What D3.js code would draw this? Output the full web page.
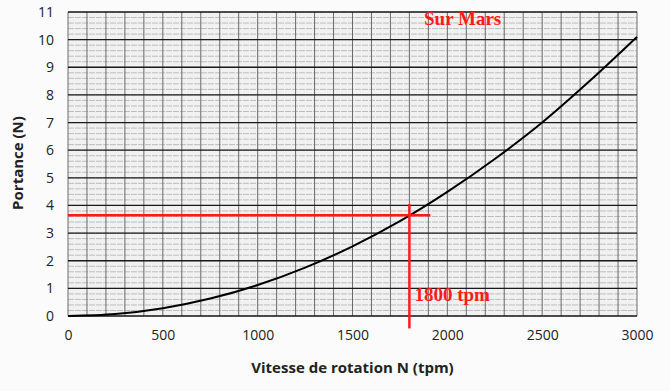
<!DOCTYPE html>
<html>
<head>
<meta charset="utf-8">
<script src="https://cdn.jsdelivr.net/npm/d3@7"></script>
<style>
  body { margin: 0; background: #fbfbfb; }
  text { font-family: "Open Sans", "Liberation Sans", sans-serif; }
</style>
</head>
<body>
<div class="container"></div>
<script>
'use strict'

// values
const speeds = [0, 250, 500, 750, 1000, 1250, 1500, 1750, 2000, 2250, 2500, 2750, 3000]
const lift = [0, 0.07, 0.28, 0.63, 1.12, 1.75, 2.52, 3.43, 4.49, 5.68, 7.0, 8.5, 10.1]
const xTicks = [0, 500, 1000, 1500, 2000, 2500, 3000]
const yTicks = [0, 1, 2, 3, 4, 5, 6, 7, 8, 9, 10, 11]
const markSpeed = 1800
const markLift = 3.65

const width = 670
const height = 391
const margin = { top: 12, right: 33, bottom: 75, left: 68 }

const svg = d3.select('.container').append('svg')
  .attr('width', width)
  .attr('height', height)

const x = d3.scaleLinear().domain([0, 3000]).range([margin.left, width - margin.right])
const y = d3.scaleLinear().domain([0, 11]).range([height - margin.bottom, margin.top])

// paper background
svg.append('rect')
  .attr('x', x(0)).attr('y', y(11))
  .attr('width', x(3000) - x(0)).attr('height', y(0) - y(11))
  .style('fill', '#f1f1f1')

// minor horizontal grid every 0.2
svg.append('g').selectAll('line')
  .data(d3.range(0, 11.01, 0.2))
  .enter().append('line')
    .attr('x1', x(0)).attr('x2', x(3000))
    .attr('y1', d => y(d)).attr('y2', d => y(d))
    .style('stroke', '#bdbdbd')
    .style('stroke-width', 1)
    .style('stroke-dasharray', '6,1')

// vertical grid every 100
svg.append('g').selectAll('line')
  .data(d3.range(0, 3001, 100))
  .enter().append('line')
    .attr('x1', d => x(d)).attr('x2', d => x(d))
    .attr('y1', y(0)).attr('y2', y(11))
    .style('stroke', '#6a6a6a')
    .style('stroke-width', 1)

// major horizontal lines
svg.append('g').selectAll('line')
  .data(yTicks)
  .enter().append('line')
    .attr('x1', x(0)).attr('x2', x(3000))
    .attr('y1', d => y(d)).attr('y2', d => y(d))
    .style('stroke', '#1a1a1a')
    .style('stroke-width', 1.3)

// axes (labels only)
const xAxis = svg.append('g')
  .attr('transform', `translate(0,${y(0)})`)
  .call(d3.axisBottom(x).tickValues(xTicks).tickFormat(d3.format('d')).tickSize(0).tickPadding(14))
xAxis.select('.domain').remove()
xAxis.selectAll('text').style('font-size', '14px').style('fill', '#222')

const yAxis = svg.append('g')
  .attr('transform', `translate(${x(0)},0)`)
  .call(d3.axisLeft(y).tickValues(yTicks).tickFormat(d3.format('d')).tickSize(0).tickPadding(14))
yAxis.select('.domain').remove()
yAxis.selectAll('text').style('font-size', '14px').style('fill', '#222')

// curve
const line = d3.line()
  .x((d, i) => x(speeds[i]))
  .y(d => y(d))
  .curve(d3.curveMonotoneX)

svg.append('path')
  .datum(lift)
  .attr('d', line)
  .style('fill', 'none')
  .style('stroke', '#000')
  .style('stroke-width', 2)

// red reading lines
svg.append('line')
  .attr('x1', x(0)).attr('x2', x(1910))
  .attr('y1', y(markLift)).attr('y2', y(markLift))
  .style('stroke', '#ff1a1a').style('stroke-width', 2.5)
svg.append('line')
  .attr('x1', x(markSpeed)).attr('x2', x(markSpeed))
  .attr('y1', y(4.05)).attr('y2', y(-0.45))
  .style('stroke', '#ff1a1a').style('stroke-width', 2.5)

svg.append('text')
  .attr('x', x(markSpeed) + 5).attr('y', y(0.55))
  .style('font-family', '"Liberation Serif", serif')
  .style('font-weight', 'bold')
  .style('font-size', '19px')
  .style('fill', '#ff1a1a')
  .text(markSpeed + ' tpm')

svg.append('text')
  .attr('x', 424).attr('y', 25)
  .style('font-family', '"Liberation Serif", serif')
  .style('font-weight', 'bold')
  .style('font-size', '19px')
  .style('fill', '#ff1a1a')
  .text('Sur Mars')

// axis titles
svg.append('text')
  .attr('x', (x(0) + x(3000)) / 2).attr('y', 373)
  .style('text-anchor', 'middle')
  .style('font-weight', 'bold')
  .style('font-size', '15px')
  .style('fill', '#222')
  .text('Vitesse de rotation N (tpm)')

svg.append('text')
  .attr('transform', 'translate(23,163) rotate(-90)')
  .style('text-anchor', 'middle')
  .style('font-weight', 'bold')
  .style('font-size', '15px')
  .style('fill', '#222')
  .text('Portance (N)')
</script>
</body>
</html>
